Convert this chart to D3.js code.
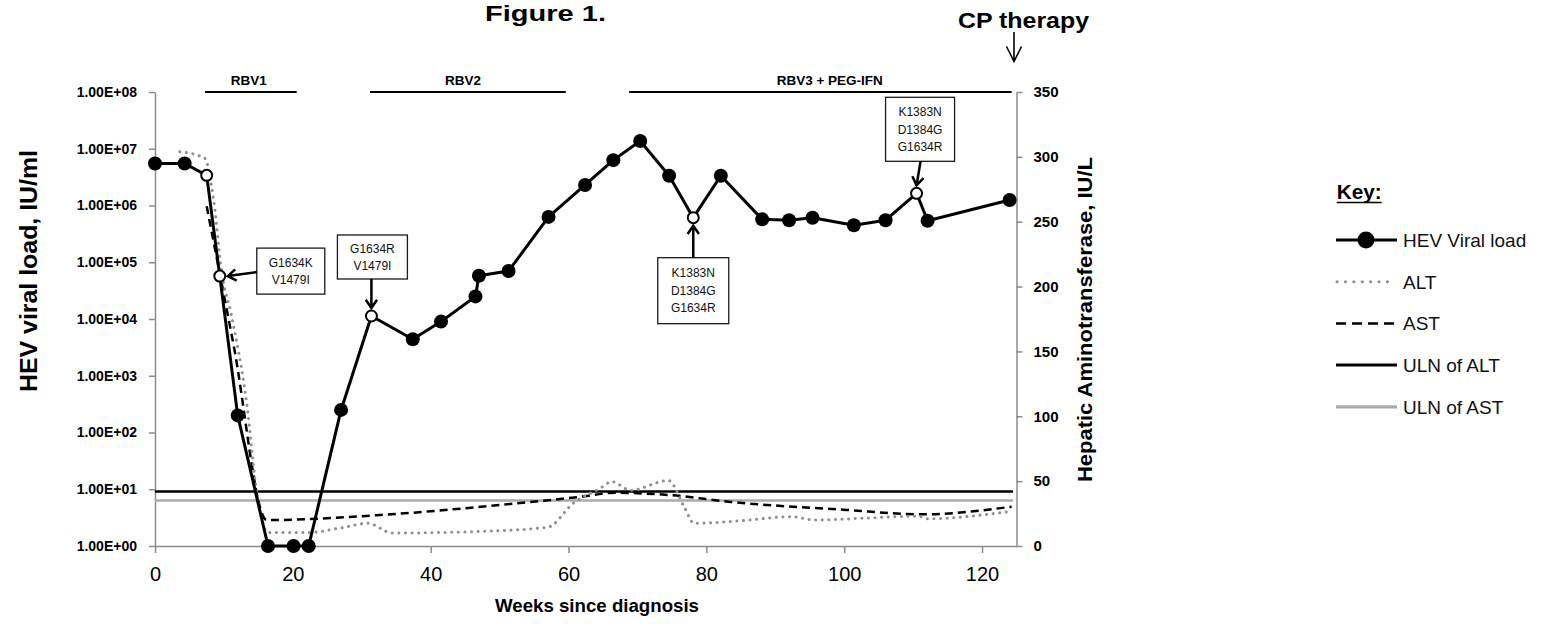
<!DOCTYPE html>
<html><head><meta charset="utf-8">
<script src="https://cdn.jsdelivr.net/npm/d3@7"></script>
<style>html,body{margin:0;padding:0;background:#fff;} svg{display:block;}</style>
</head><body><svg id="c" width="1558" height="625"></svg>
<script>
// ---------- data ----------
const viralWeeks = [0, 4.3, 7.5, 9.4, 12, 16.4, 20.1, 22.3, 27, 31.4, 37.4, 41.5, 46.5, 47, 51.3, 57.1, 62.4, 66.5, 70.4, 74.6, 78.1, 82.1, 88.1, 92, 95.4, 101.4, 106, 110.5, 112.1, 124];
const viralLoad = [5.5e6, 5.5e6, 3.4e6, 5.7e4, 2e2, 1, 1, 1, 2.5e2, 1.13e4, 4.4e3, 9e3, 2.5e4, 5.8e4, 7e4, 6.3e5, 2.3e6, 6.3e6, 1.37e7, 3.35e6, 6.1e5, 3.35e6, 5.7e5, 5.5e5, 6.1e5, 4.5e5, 5.5e5, 1.64e6, 5.4e5, 1.25e6];
const sequenced = [0,0,1,1,0,0,0,0,0,1,0,0,0,0,0,0,0,0,0,0,1,0,0,0,0,0,0,1,0,0];

const altWeeks = [3.6, 7.2, 8.5, 9.7, 11, 13.3, 14.8, 16.3, 22.5, 27, 30.9, 34.4, 46, 57, 60.7, 64.6, 66.3, 69, 74.5, 76.8, 78.2, 84.6, 92.4, 95.8, 103, 110.8, 112, 123.7];
const altValues = [304, 299, 267, 210, 180, 110, 40, 10.5, 10.5, 14, 17.5, 10, 11, 14.5, 33, 44.5, 49.6, 43, 50.5, 30, 17.5, 19.3, 22.6, 20, 21.5, 23, 21, 26.4];

const astWeeks = [7.5, 11.4, 16.2, 33, 50, 61.8, 66.7, 74.6, 83.5, 100.3, 111.4, 124.3];
const astValues = [262, 155, 20, 24, 31.6, 38, 41, 39.3, 34, 27.8, 24.4, 30.3];

const ulnALT = 42;
const ulnAST = 35;

const treatmentNames = ["RBV1", "RBV2", "RBV3 + PEG-IFN"];
const treatmentStart = [7.25, 31.2, 68.8];
const treatmentEnd = [20.56, 59.6, 124.3];
const treatmentLabelWeek = [13.6, 44.7, 97.9];

const annotationIndex = [3, 9, 20, 27];
const annotationLines = [["G1634K", "V1479I"], ["G1634R", "V1479I"], ["K1383N", "D1384G", "G1634R"], ["K1383N", "D1384G", "G1634R"]];

const leftTickValues = [1, 10, 100, 1000, 1e4, 1e5, 1e6, 1e7, 1e8];
const leftTickLabels = ["1.00E+00", "1.00E+01", "1.00E+02", "1.00E+03", "1.00E+04", "1.00E+05", "1.00E+06", "1.00E+07", "1.00E+08"];
const rightTickValues = [0, 50, 100, 150, 200, 250, 300, 350];
const xTickValues = [0, 20, 40, 60, 80, 100, 120];

const legendLabels = ["HEV Viral load", "ALT", "AST", "ULN of ALT", "ULN of AST"];

// ---------- drawing ----------
const FONT = '"Liberation Sans", Arial, sans-serif';
const AXIS_GREY = "#8c8c8c";
const svg = d3.select("#c").attr("font-family", FONT);

const x = d3.scaleLinear().domain([0, 125]).range([155, 1016.5]);
const yL = d3.scaleLog().domain([1, 1e8]).range([546, 92]);
const yR = d3.scaleLinear().domain([0, 350]).range([546, 92]);

function styleAxis(g, size, weight) {
  g.attr("font-family", FONT).attr("font-size", size);
  g.select(".domain").attr("stroke", AXIS_GREY).attr("stroke-width", 1.5);
  g.selectAll(".tick line").attr("stroke", AXIS_GREY).attr("stroke-width", 1.5);
  g.selectAll(".tick text").attr("fill", "#000").attr("font-weight", weight);
}

// left axis
const gL = svg.append("g").attr("transform", `translate(${x(0)},0)`)
  .call(d3.axisLeft(yL).tickValues(leftTickValues).tickFormat((d, i) => leftTickLabels[i]).tickSize(6).tickSizeOuter(0).tickPadding(12));
styleAxis(gL, 14, "bold");

// right axis
const gR = svg.append("g").attr("transform", `translate(${x(125)},0)`)
  .call(d3.axisRight(yR).tickValues(rightTickValues).tickSize(6).tickSizeOuter(0).tickPadding(11));
styleAxis(gR, 15, "bold");

// x axis
const gX = svg.append("g").attr("transform", `translate(0,${yL(1)})`)
  .call(d3.axisBottom(x).tickValues(xTickValues).tickSize(7).tickSizeOuter(0).tickPadding(14));
styleAxis(gX, 20, "normal");

// ULN lines
svg.append("line").attr("x1", x(0)).attr("x2", x(124.5)).attr("y1", yR(ulnAST)).attr("y2", yR(ulnAST))
  .attr("stroke", "#ababab").attr("stroke-width", 2.5);
svg.append("line").attr("x1", x(0)).attr("x2", x(124.5)).attr("y1", yR(ulnALT)).attr("y2", yR(ulnALT))
  .attr("stroke", "#000").attr("stroke-width", 2.5);

// AST dashed
const astData = astWeeks.map((w, i) => [w, astValues[i]]);
svg.append("path").datum(astData)
  .attr("d", d3.line().x(d => x(d[0])).y(d => yR(d[1])).curve(d3.curveMonotoneX))
  .attr("fill", "none").attr("stroke", "#000").attr("stroke-width", 2.5).attr("stroke-dasharray", "8 5");

// ALT dotted
const altData = altWeeks.map((w, i) => [w, altValues[i]]);
svg.append("path").datum(altData)
  .attr("d", d3.line().x(d => x(d[0])).y(d => yR(d[1])).curve(d3.curveMonotoneX))
  .attr("fill", "none").attr("stroke", "#8f8f8f").attr("stroke-width", 3)
  .attr("stroke-linecap", "round").attr("stroke-dasharray", "0.1 6.5");

// treatment bars
treatmentNames.forEach((name, i) => {
  svg.append("line").attr("x1", x(treatmentStart[i])).attr("x2", x(treatmentEnd[i]))
    .attr("y1", yL(1e8)).attr("y2", yL(1e8)).attr("stroke", "#000").attr("stroke-width", 2);
  svg.append("text").attr("x", x(treatmentLabelWeek[i])).attr("y", yL(1e8) - 7)
    .attr("text-anchor", "middle").attr("font-size", 13.5).attr("font-weight", "bold").text(name);
});

// viral load line
const vData = viralWeeks.map((w, i) => ({ w, v: viralLoad[i], open: sequenced[i] === 1 }));
svg.append("path").datum(vData)
  .attr("d", d3.line().x(d => x(d.w)).y(d => yL(d.v)))
  .attr("fill", "none").attr("stroke", "#000").attr("stroke-width", 3).attr("stroke-linejoin", "round");
svg.selectAll("circle.pt").data(vData).enter().append("circle").attr("class", "pt")
  .attr("cx", d => x(d.w)).attr("cy", d => yL(d.v))
  .attr("r", d => d.open ? 5.5 : 7)
  .attr("fill", d => d.open ? "#fff" : "#000")
  .attr("stroke", "#000").attr("stroke-width", d => d.open ? 2 : 0);

// annotation boxes with arrows
function arrow(x1, y1, x2, y2, w, barb, spread) {
  const a = Math.atan2(y2 - y1, x2 - x1);
  const p = d3.path();
  p.moveTo(x1, y1); p.lineTo(x2, y2);
  p.moveTo(x2 - barb * Math.cos(a - spread), y2 - barb * Math.sin(a - spread));
  p.lineTo(x2, y2);
  p.lineTo(x2 - barb * Math.cos(a + spread), y2 - barb * Math.sin(a + spread));
  svg.append("path").attr("d", p.toString()).attr("fill", "none").attr("stroke", "#000")
    .attr("stroke-width", w).attr("stroke-linejoin", "miter");
}
// layout of each annotation relative to its marker
const annLayout = [
  { bx: 37, by: -28, bw: 68, bh: 46, a: [37, -4, 8, 0] },
  { bx: -34, by: -81, bw: 70, bh: 44, a: [0, -37, 0, -8] },
  { bx: -35.5, by: 40, bw: 71, bh: 66, a: [0, 40, 0, 8] },
  { bx: -31, by: -96, bw: 69, bh: 64, a: [4, -32, 0, -8] }
];
annotationIndex.forEach((idx, k) => {
  const mx = x(viralWeeks[idx]), my = yL(viralLoad[idx]);
  const L = annLayout[k];
  svg.append("rect").attr("x", mx + L.bx).attr("y", my + L.by).attr("width", L.bw).attr("height", L.bh)
    .attr("fill", "#fff").attr("stroke", "#1a1a1a").attr("stroke-width", 1.3);
  const lines = annotationLines[k];
  const lh = 17.5;
  const cy0 = my + L.by + L.bh / 2 - (lines.length - 1) * lh / 2;
  lines.forEach((t, j) => {
    svg.append("text").attr("x", mx + L.bx + L.bw / 2).attr("y", cy0 + j * lh + 4.3)
      .attr("text-anchor", "middle").attr("font-size", 12).attr("fill", "#111").text(t);
  });
  arrow(mx + L.a[0], my + L.a[1], mx + L.a[2], my + L.a[3], 2.5, 10, 0.6);
});

// titles
svg.append("text").attr("x", 485).attr("y", 21).attr("font-size", 22).attr("font-weight", "bold")
  .attr("textLength", 121).attr("lengthAdjust", "spacingAndGlyphs").text("Figure 1.");
svg.append("text").attr("x", 958).attr("y", 28).attr("font-size", 22).attr("font-weight", "bold")
  .attr("textLength", 131).attr("lengthAdjust", "spacingAndGlyphs").text("CP therapy");
(function () {
  const p = d3.path();
  p.moveTo(1014, 32); p.lineTo(1014, 61.5);
  p.moveTo(1006.5, 46.5); p.lineTo(1014, 61.5); p.lineTo(1021.5, 46.5);
  svg.append("path").attr("d", p.toString()).attr("fill", "none").attr("stroke", "#000").attr("stroke-width", 1.6);
})();

svg.append("text").attr("transform", "translate(36.7,271) rotate(-90)").attr("text-anchor", "middle")
  .attr("font-size", 23).attr("font-weight", "bold")
  .attr("textLength", 242).attr("lengthAdjust", "spacingAndGlyphs").text("HEV viral load, IU/ml");
svg.append("text").attr("transform", "translate(1091.5,319.5) rotate(-90)").attr("text-anchor", "middle")
  .attr("font-size", 21).attr("font-weight", "bold")
  .attr("textLength", 325).attr("lengthAdjust", "spacingAndGlyphs").text("Hepatic Aminotransferase,  IU/L");
svg.append("text").attr("x", 597).attr("y", 612).attr("text-anchor", "middle")
  .attr("font-size", 19).attr("font-weight", "bold")
  .attr("textLength", 204).attr("lengthAdjust", "spacingAndGlyphs").text("Weeks since diagnosis");

// legend
const lg = svg.append("g");
lg.append("text").attr("x", 1336.7).attr("y", 199).attr("font-size", 21).attr("font-weight", "bold")
  .attr("textLength", 45).attr("lengthAdjust", "spacingAndGlyphs").text("Key:");
lg.append("line").attr("x1", 1336.7).attr("x2", 1381.7).attr("y1", 202.5).attr("y2", 202.5)
  .attr("stroke", "#000").attr("stroke-width", 1.6);
const rowY = i => 240 + i * 41.7;
const lx1 = 1336, lx2 = 1397;
lg.append("line").attr("x1", lx1).attr("x2", lx2).attr("y1", rowY(0)).attr("y2", rowY(0)).attr("stroke", "#000").attr("stroke-width", 3.2);
lg.append("circle").attr("cx", 1366).attr("cy", rowY(0)).attr("r", 8.5).attr("fill", "#000");
lg.append("line").attr("x1", lx1 + 1).attr("x2", 1388).attr("y1", rowY(1)).attr("y2", rowY(1))
  .attr("stroke", "#8f8f8f").attr("stroke-width", 3).attr("stroke-linecap", "round").attr("stroke-dasharray", "0.1 8.3");
lg.append("line").attr("x1", lx1).attr("x2", 1394).attr("y1", rowY(2)).attr("y2", rowY(2))
  .attr("stroke", "#000").attr("stroke-width", 2.5).attr("stroke-dasharray", "10 6");
lg.append("line").attr("x1", lx1).attr("x2", lx2).attr("y1", rowY(3)).attr("y2", rowY(3)).attr("stroke", "#000").attr("stroke-width", 3);
lg.append("line").attr("x1", lx1).attr("x2", lx2).attr("y1", rowY(4)).attr("y2", rowY(4)).attr("stroke", "#ababab").attr("stroke-width", 3.2);
legendLabels.forEach((t, i) => {
  lg.append("text").attr("x", 1403).attr("y", rowY(i) + 6.8).attr("font-size", 19).attr("fill", "#111").text(t);
});
</script></body></html>
